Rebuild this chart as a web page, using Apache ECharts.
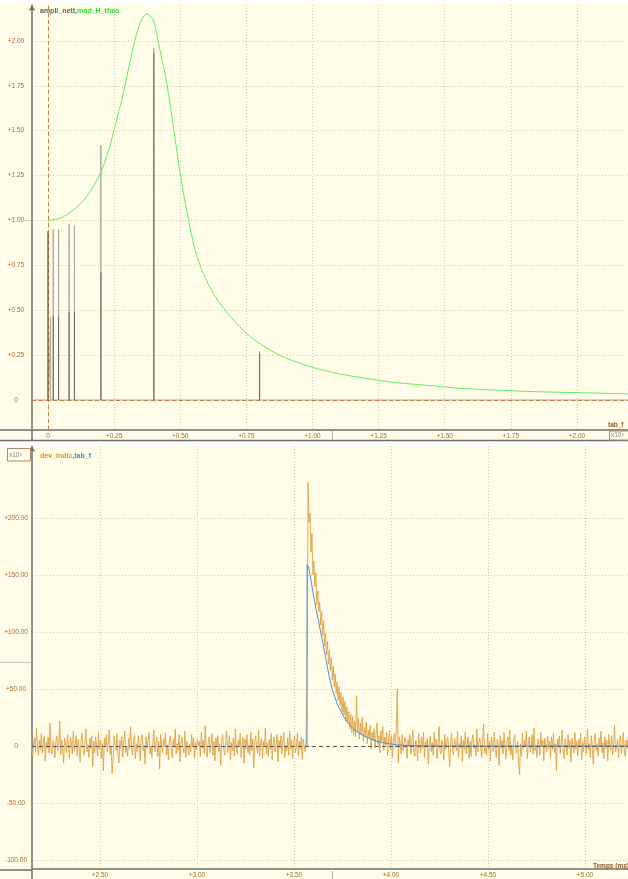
<!DOCTYPE html>
<html><head><meta charset="utf-8">
<script src="https://cdn.jsdelivr.net/npm/echarts@6/dist/echarts.min.js"></script>
<style>html,body{margin:0;padding:0;background:#fffce9;}#c{width:628px;height:879px;}</style>
</head><body><div id="c"></div><script>
// ---------- top chart : spectrum ----------
const ampF = [0, 0.002, 0.010, 0.020, 0.040, 0.080, 0.100, 0.200, 0.400, 0.800];
const ampA = [0.94, 0.93, 0.46, 0.95, 0.95, 0.98, 0.97, 1.42, 1.96, 0.27];
const ampB = [0.94, 0.93, 0, 0.47, 0.47, 0.49, 0.49, 0.71, 1.93, 0.26];
const thF = [0, 0.05, 0.096, 0.13, 0.159, 0.185, 0.203, 0.225, 0.247, 0.265, 0.285, 0.305, 0.323, 0.348, 0.373, 0.398, 0.423, 0.449, 0.474, 0.499, 0.524, 0.556, 0.587, 0.625, 0.669, 0.713, 0.764, 0.839, 0.902, 0.991, 1.091, 1.180, 1.306, 1.432, 1.558, 1.684, 1.810, 1.936, 2.062, 2.193];
const thV = [1.00, 1.015, 1.058, 1.105, 1.16, 1.225, 1.28, 1.37, 1.486, 1.59, 1.709, 1.85, 1.968, 2.099, 2.150, 2.117, 1.95, 1.764, 1.523, 1.27, 1.06, 0.836, 0.706, 0.594, 0.501, 0.427, 0.353, 0.279, 0.232, 0.186, 0.149, 0.126, 0.098, 0.082, 0.065, 0.056, 0.048, 0.043, 0.039, 0.034];
const topXTicks = [0, 0.25, 0.5, 0.75, 1.0, 1.25, 1.5, 1.75, 2.0];
const topYTicks = [0, 0.25, 0.5, 0.75, 1.0, 1.25, 1.5, 1.75, 2.0];

// ---------- bottom chart : time signal (x10^3) ----------
const DT = 0.005;
const T_PULSE = 3.5675;
const devBefore = [4,-6,9,-2,7,-10,1,8,-5,-12,3,10,-1,6,-8,13,-3,-9,2,7,
-5,16,0,-8,5,-3,11,-6,1,9,-13,3,-2,8,-6,20,-3,-7,5,2,
-10,4,9,-4,-1,22,-8,5,-2,-15,7,1,-6,10,0,-11,8,3,-7,13,
-4,2,9,-9,6,-1,-14,5,11,-3,-8,2,15,-5,1,-10,7,-2,9,-18,
4,-6,8,0,-9,12,-3,5,-11,2,-22,7,-1,10,-5,3,14,-8,0,-24,
-12,9,1,-4,11,-7,-15,5,-2,8,-10,3,13,-6,0,-9,7,-3,17,-1,
-8,4,10,-11,2,-5,9,0,-13,6,10,-4,1,-16,8,-2,5,12,-7,0,
-10,3,14,-5,-1,8,-9,4,-20,10,2,-6,7,0,11,-8,1,-12,5,9,
-3,-10,6,0,15,-7,2,-4,10,-14,3,8,-1,-6,13,-10,4,-1,-8,2,
-5,10,-1,7,-11,3,-3,6,0,4,-9,12,-2,5,-7,18,-4,-10,3,8,
-6,1,11,-8,4,-13,7,-1,9,-5,2,-17,6,10,-3,-8,4,13,-6,1,
9,-12,3,-4,7,-9,15,-2,-7,5,-1,11,-10,2,8,-15,6,-3,10,-6,
1,-8,12,-4,6,-19,3,9,-2,-6,14,-9,2,7,-11,4,-1,16,-7,3,
-9,6,-3,11,-12,2,8,-5,0,10,-14,5,-2,9,-7,3,12,-10,1,-4,
7,-8,13,-3,5,-11,2,9,-6,-1,11,-9,4,-3,8,-12,6,0,-5,3];
const devPulse = [76,231,196,204,170,186,150,162,140,152,124,136,118,126,106,118,97,110,88,99,
80,92,72,84,66,77,58,70,52,63,46,56,40,52,36,47,30,43,27,39,
22,34,20,30,15,28,12,26,10,22,8,44,12,24,6,20,10,25,4,16,
9,21,2,14,7,18,-3,12,5,15,-2,10,20,1,9,-6,13,4,17,-4,
8,1,12,-8,6,14,-3,9,-10,5,11,-2,16,50,-15,8,2,-7,10,-4];
const devAfter = [-5,8,1,-11,6,-1,10,-7,3,14,-4,-9,5,0,-13,11,2,-6,8,-2,
12,-10,4,-1,7,-16,2,9,-5,3,-8,12,-1,6,-11,2,17,-4,-7,5,
0,-12,10,-3,4,8,-6,-18,3,11,-2,-8,7,1,-4,13,-10,2,-1,9,
-14,5,-3,12,-7,0,8,-11,4,-9,6,10,-2,1,-9,15,-5,3,7,-1,
-10,5,19,-6,0,-8,11,-3,4,-13,8,1,-5,12,-1,-10,6,2,-17,9,
-2,5,-7,12,0,-11,3,8,-4,14,-8,1,-12,6,10,-1,-6,4,-15,-25,
2,-9,11,-3,5,0,13,-11,1,8,-5,-2,10,-7,16,-4,0,-10,6,3,
-8,12,-1,5,-13,7,0,-5,9,-2,4,-10,8,-3,11,-6,2,-22,6,-1,
9,-7,3,14,-4,-11,6,1,-8,10,-2,5,-14,7,0,-6,12,-3,4,-9,
6,-1,11,-12,3,-5,8,0,-7,15,-3,2,-10,9,-1,-16,5,11,-4,2,
-9,7,0,13,-6,3,-11,8,-2,5,-13,10,1,-4,9,-8,2,18,-5,-1,
6,-10,3,9,-7,1,12,-4,-9,5,-2,8,-12,4,0,11,-6,2,-8,5];
const tabT = [3.567,3.5675,3.575,3.5825,3.59,3.5975,3.605,3.6125,3.62,3.635,3.65,3.665,3.68,3.695,3.71,3.725,3.74,3.755,3.77,3.785,3.80,3.83,3.86,3.89,3.92,3.95,3.99,4.03,4.1,4.2,4.4,5.22];
const tabV = [0,159,157,150,143,135,128,121,115,102,89,76,62,51,43,36,31,26,22,19,16,12,9,6.5,4.5,3.2,2,1,0.4,0.1,0,0];
const botXTicks = [2.5, 3.0, 3.5, 4.0, 4.5, 5.0];
const botYTicks = [-100, -50, 0, 50, 100, 150, 200];

// ---------- build series data ----------
const X0MIN = -0.0605, X0MAX = 2.193;
const ampLight = [[X0MIN, 0]];
ampF.forEach((f, i) => { ampLight.push([f - 0.0004, 0], [f, ampA[i]], [f + 0.0004, 0]); });
ampLight.push([X0MAX, 0]);
const ampDark = [];
ampF.forEach((f, i) => { if (ampB[i] > 0) ampDark.push([f, 0], [f, ampB[i]], [f, '-']); });
const theo = thF.map((f, i) => [f, thV[i]]);
const devAll = devBefore.concat(devPulse, devAfter);
const tStart = T_PULSE - devBefore.length * DT;
const dev = devAll.map((v, i) => [tStart + i * DT, v]);
const tab = tabT.map((t, i) => [t, tabV[i]]);

const LBL = '#a86b2d', AX = '#6e6e6e', GRID = '#d3cbb2';
const FONT = 'Liberation Sans, Arial, sans-serif';
const fmt2 = v => v === 0 ? '0' : (v > 0 ? '+' : '') + v.toFixed(2);

const chart = echarts.init(document.getElementById('c'), null, {renderer: 'canvas'});
const axisCommon = (ticks, fmt, isY) => ({
  type: 'value',
  axisLine: {show: true, onZero: false, lineStyle: {color: AX, width: 1.5},
    symbol: isY ? ['none', 'arrow'] : 'none', symbolSize: [5, 6]},
  axisTick: {show: false, customValues: ticks},
  axisLabel: {customValues: ticks, formatter: fmt, color: LBL, fontSize: 6.5, fontFamily: FONT,
    margin: isY ? 16 : 3, align: 'center'},
  splitLine: {show: true, lineStyle: {color: GRID, type: [1, 2], width: 1}}
});

chart.setOption({
  animation: false,
  backgroundColor: '#fffce9',
  title: [
    {text: '{a|ampli_nett}{s|,}{b|mod_H_theo}', left: 35, top: 3,
      textStyle: {rich: {a: {color: '#5b6272', fontWeight: 'bold', fontSize: 7, fontFamily: FONT},
        s: {color: '#5b6272', fontSize: 7, fontFamily: FONT},
        b: {color: '#2edd2e', fontWeight: 'bold', fontSize: 7, fontFamily: FONT}}}},
    {text: '{a|dev_indic}{s|,}{b|tab_f}', left: 35, top: 448,
      textStyle: {rich: {a: {color: '#e38c1c', fontWeight: 'bold', fontSize: 7, fontFamily: FONT},
        s: {color: '#5b6272', fontSize: 7, fontFamily: FONT},
        b: {color: '#3d8fd8', fontWeight: 'bold', fontSize: 7, fontFamily: FONT}}}}
  ],
  grid: [
    {left: 32, right: 0, top: 5, height: 425},
    {left: 32, right: 0, top: 446, height: 424}
  ],
  xAxis: [
    Object.assign(axisCommon(topXTicks, fmt2, false), {gridIndex: 0, min: X0MIN, max: X0MAX}),
    Object.assign(axisCommon(botXTicks, v => '+' + v.toFixed(2), false), {gridIndex: 1, min: 2.1495, max: 5.2216})
  ],
  yAxis: [
    Object.assign(axisCommon(topYTicks, fmt2, true), {gridIndex: 0, min: -0.167, max: 2.2}),
    Object.assign(axisCommon(botYTicks, fmt2, true), {gridIndex: 1, min: -107.8, max: 263})
  ],
  series: [
    {type: 'line', name: 'ampli_nett', xAxisIndex: 0, yAxisIndex: 0, data: ampLight, showSymbol: false,
      lineStyle: {color: '#a9a9a0', width: 1}, z: 2, silent: true,
      markLine: {silent: true, symbol: 'none', label: {show: false},
        lineStyle: {color: '#c8803c', type: [4, 3], width: 1},
        data: [{yAxis: 0}, {xAxis: 0}]}},
    {type: 'line', name: 'ampli_nett_d', xAxisIndex: 0, yAxisIndex: 0, data: ampDark, showSymbol: false,
      connectNulls: false, lineStyle: {color: '#6a6a66', width: 1}, z: 3, silent: true},
    {type: 'line', name: 'mod_H_theo', xAxisIndex: 0, yAxisIndex: 0, data: theo, showSymbol: false,
      smooth: 0.3, lineStyle: {color: '#5df05d', width: 1}, z: 4, silent: true},
    {type: 'line', name: 'zero', xAxisIndex: 1, yAxisIndex: 1, data: [], z: 1,
      markLine: {silent: true, symbol: 'none', label: {show: false},
        lineStyle: {color: '#5a5a5a', type: [4, 3], width: 1}, data: [{yAxis: 0}]}},
    {type: 'line', name: 'dev_indic', xAxisIndex: 1, yAxisIndex: 1, data: dev, showSymbol: false,
      sampling: 'none', lineStyle: {color: '#dfa245', width: 1, opacity: 0.9}, z: 2, silent: true},
    {type: 'line', name: 'tab_f', xAxisIndex: 1, yAxisIndex: 1, data: tab, showSymbol: false,
      lineStyle: {color: '#4a92d4', width: 1}, z: 3, silent: true}
  ],
  graphic: [
    {type: 'rect', shape: {x: 0, y: 0, width: 628, height: 4}, style: {fill: '#ffffff'}, z: 0},
    {type: 'rect', shape: {x: 0, y: 441, width: 628, height: 4.5}, style: {fill: '#ffffff'}, z: 100},
    {type: 'line', shape: {x1: 0, y1: 430, x2: 32, y2: 430}, style: {stroke: AX, lineWidth: 1.5}, z: 100},
    {type: 'line', shape: {x1: 0, y1: 440.5, x2: 628, y2: 440.5}, style: {stroke: AX, lineWidth: 1.5}, z: 100},
    {type: 'line', shape: {x1: 32, y1: 430, x2: 32, y2: 440}, style: {stroke: AX, lineWidth: 1.5}, z: 100},
    {type: 'line', shape: {x1: 0, y1: 870, x2: 32, y2: 870}, style: {stroke: AX, lineWidth: 1.5}, z: 100},
    {type: 'line', shape: {x1: 32, y1: 870, x2: 32, y2: 879}, style: {stroke: AX, lineWidth: 1.5}, z: 100},
    {type: 'line', shape: {x1: 332.5, y1: 431, x2: 332.5, y2: 440}, style: {stroke: '#b5b5b5', lineWidth: 1}, z: 100},
    {type: 'line', shape: {x1: 332.5, y1: 871, x2: 332.5, y2: 879}, style: {stroke: '#b5b5b5', lineWidth: 1}, z: 100},
    {type: 'line', shape: {x1: 20, y1: 220.5, x2: 31, y2: 220.5}, style: {stroke: '#cfcfcf', lineWidth: 1}, z: 100},
    {type: 'line', shape: {x1: 0, y1: 662.5, x2: 31, y2: 662.5}, style: {stroke: '#c4c4c4', lineWidth: 1}, z: 100},
    {type: 'rect', shape: {x: 609.5, y: 431, width: 19, height: 9}, style: {fill: '#fffce9', stroke: '#a88a6a', lineWidth: 1}, z: 101},
    {type: 'text', x: 611, y: 435.5, style: {text: 'x10³', fill: '#8a8a8a', fontSize: 6.5, fontFamily: FONT, verticalAlign: 'middle'}, z: 102},
    {type: 'rect', shape: {x: 7.5, y: 448.5, width: 23, height: 12.5}, style: {fill: '#fffce9', stroke: '#a88a6a', lineWidth: 1}, z: 101},
    {type: 'text', x: 9, y: 455, style: {text: 'x10³', fill: '#8a8a8a', fontSize: 6.5, fontFamily: FONT, verticalAlign: 'middle'}, z: 102},
    {type: 'text', x: 608, y: 425, style: {text: 'tab_f', fill: '#8a5a22', fontSize: 6.5, fontWeight: 'bold', fontFamily: FONT, verticalAlign: 'middle'}, z: 102},
    {type: 'text', x: 593, y: 866, style: {text: 'Temps (ms)', fill: '#8a5a22', fontSize: 6.5, fontWeight: 'bold', fontFamily: FONT, verticalAlign: 'middle'}, z: 102}
  ]
});
</script></body></html>
